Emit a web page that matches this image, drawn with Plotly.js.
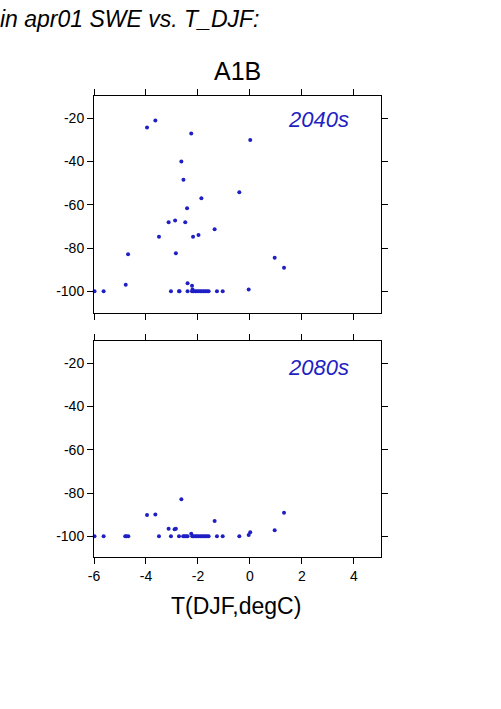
<!DOCTYPE html>
<html>
<head>
<meta charset="utf-8">
<script src="https://cdn.plot.ly/plotly-3.0.1.min.js"></script>
<style>html,body{margin:0;padding:0;background:#fff;}#chart{width:501px;height:709px;}</style>
</head>
<body>
<div id="chart"></div>
<script>
// 2040s panel: temperature change (degC) and % change in apr01 SWE
const x2040s = [-3.96, -3.64, -2.26, -2.64, -2.56, -1.87, -2.42, -3.13, -2.88, -2.49,
  -1.36, -3.50, -2.19, -1.98, -4.69, -2.85, -4.78, -2.40, -2.23, -2.21,
  0.01, -0.41, 0.95, 1.31, -0.05,
  -5.98, -5.63, -3.04, -2.73, -2.71, -2.40, -2.23, -2.17, -2.10, -2.04,
  -1.98, -1.91, -1.85, -1.78, -1.72, -1.65, -1.59, -1.27, -1.05];
const y2040s = [-24.3, -21.0, -27.0, -40.0, -48.4, -57.0, -61.6, -68.0, -67.3, -68.0,
  -71.3, -74.8, -74.8, -74.0, -82.9, -82.4, -96.9, -96.2, -97.4, -99.1,
  -30.0, -54.2, -84.5, -89.1, -99.1,
  -100, -100, -100, -100, -100, -100, -100, -100, -100, -100,
  -100, -100, -100, -100, -100, -100, -100, -100, -100];

// 2080s panel
const x2080s = [-3.96, -3.64, -2.64, -1.36, -3.13, -2.90, -2.85, -2.26,
  -0.41, -0.05, 0.01, 0.95, 1.31,
  -5.98, -5.63, -4.80, -4.75, -4.68, -3.50, -3.04, -2.73, -2.57, -2.52,
  -2.46, -2.40, -2.22, -2.17, -2.10, -2.04, -1.98, -1.91, -1.85, -1.78,
  -1.72, -1.65, -1.59, -1.27, -1.05];
const y2080s = [-90.2, -90.0, -82.9, -92.9, -96.5, -96.8, -96.5, -98.8,
  -100.0, -99.4, -98.2, -97.2, -89.1,
  -100, -100, -100, -100, -100, -100, -100, -100, -100, -100,
  -100, -100, -100, -100, -100, -100, -100, -100, -100, -100,
  -100, -100, -100, -100, -100];

const xTicks = [-6, -4, -2, 0, 2, 4];
const xTickText = ['-6', '-4', '-2', '0', '2', '4'];
const yTicks = [-20, -40, -60, -80, -100];
const yTickText = ['-20', '-40', '-60', '-80', '-100'];
const panelLabels = ['2040s', '2080s'];
const scenario = 'A1B';
const mainTitle = 'in apr01 SWE vs. T_DJF:';
const xTitle = 'T(DJF,degC)';

const dotColor = '#1f1fc4';
const FONT = 'Liberation Sans, Arial, Helvetica, sans-serif';

const traces = [
  {x: x2040s, y: y2040s, xaxis: 'x', yaxis: 'y', type: 'scatter', mode: 'markers',
   marker: {size: 4, color: dotColor}, cliponaxis: false, showlegend: false},
  {x: x2080s, y: y2080s, xaxis: 'x2', yaxis: 'y2', type: 'scatter', mode: 'markers',
   marker: {size: 4, color: dotColor}, cliponaxis: false, showlegend: false}
];

const axCommon = {
  showline: true, linecolor: '#000', linewidth: 1, mirror: 'allticks',
  ticks: 'outside', ticklen: 6, tickwidth: 1, tickcolor: '#000',
  showgrid: false, zeroline: false,
  tickfont: {family: FONT, size: 14, color: '#000'}
};

const layout = {
  width: 501, height: 709,
  margin: {l: 94, r: 120, t: 96, b: 152},
  paper_bgcolor: '#fff', plot_bgcolor: '#fff',
  font: {family: FONT, color: '#000'},
  xaxis: Object.assign({}, axCommon, {range: [-6, 5.04], tickvals: xTicks, ticktext: xTickText, showticklabels: false, anchor: 'y'}),
  yaxis: Object.assign({}, axCommon, {range: [-110, -9.7], tickvals: yTicks, ticktext: yTickText, domain: [0.5293, 1], anchor: 'x'}),
  xaxis2: Object.assign({}, axCommon, {range: [-6, 5.04], tickvals: xTicks, ticktext: xTickText, anchor: 'y2'}),
  yaxis2: Object.assign({}, axCommon, {range: [-109.6, -9.7], tickvals: yTicks, ticktext: yTickText, domain: [0, 0.4685], anchor: 'x2'}),
  annotations: [
    {text: mainTitle, xref: 'paper', yref: 'paper', x: -0.333, y: 1.167, xanchor: 'left', yanchor: 'middle',
     showarrow: false, font: {family: FONT, size: 23, style: 'italic', color: '#000'}},
    {text: scenario, xref: 'paper', yref: 'paper', x: 0.5, y: 1.0553, xanchor: 'center', yanchor: 'middle',
     showarrow: false, font: {family: FONT, size: 25, color: '#000'}},
    {text: panelLabels[0], xref: 'paper', yref: 'paper', x: 0.896, y: 0.950, xanchor: 'right', yanchor: 'middle',
     showarrow: false, font: {family: FONT, size: 22, style: 'italic', color: dotColor}},
    {text: panelLabels[1], xref: 'paper', yref: 'paper', x: 0.896, y: 0.411, xanchor: 'right', yanchor: 'middle',
     showarrow: false, font: {family: FONT, size: 22, style: 'italic', color: dotColor}},
    {text: xTitle, xref: 'paper', yref: 'paper', x: 0.495, y: -0.106, xanchor: 'center', yanchor: 'middle',
     showarrow: false, font: {family: FONT, size: 23, color: '#000'}}
  ]
};

Plotly.newPlot('chart', traces, layout, {displayModeBar: false, staticPlot: true});
</script>
</body>
</html>
